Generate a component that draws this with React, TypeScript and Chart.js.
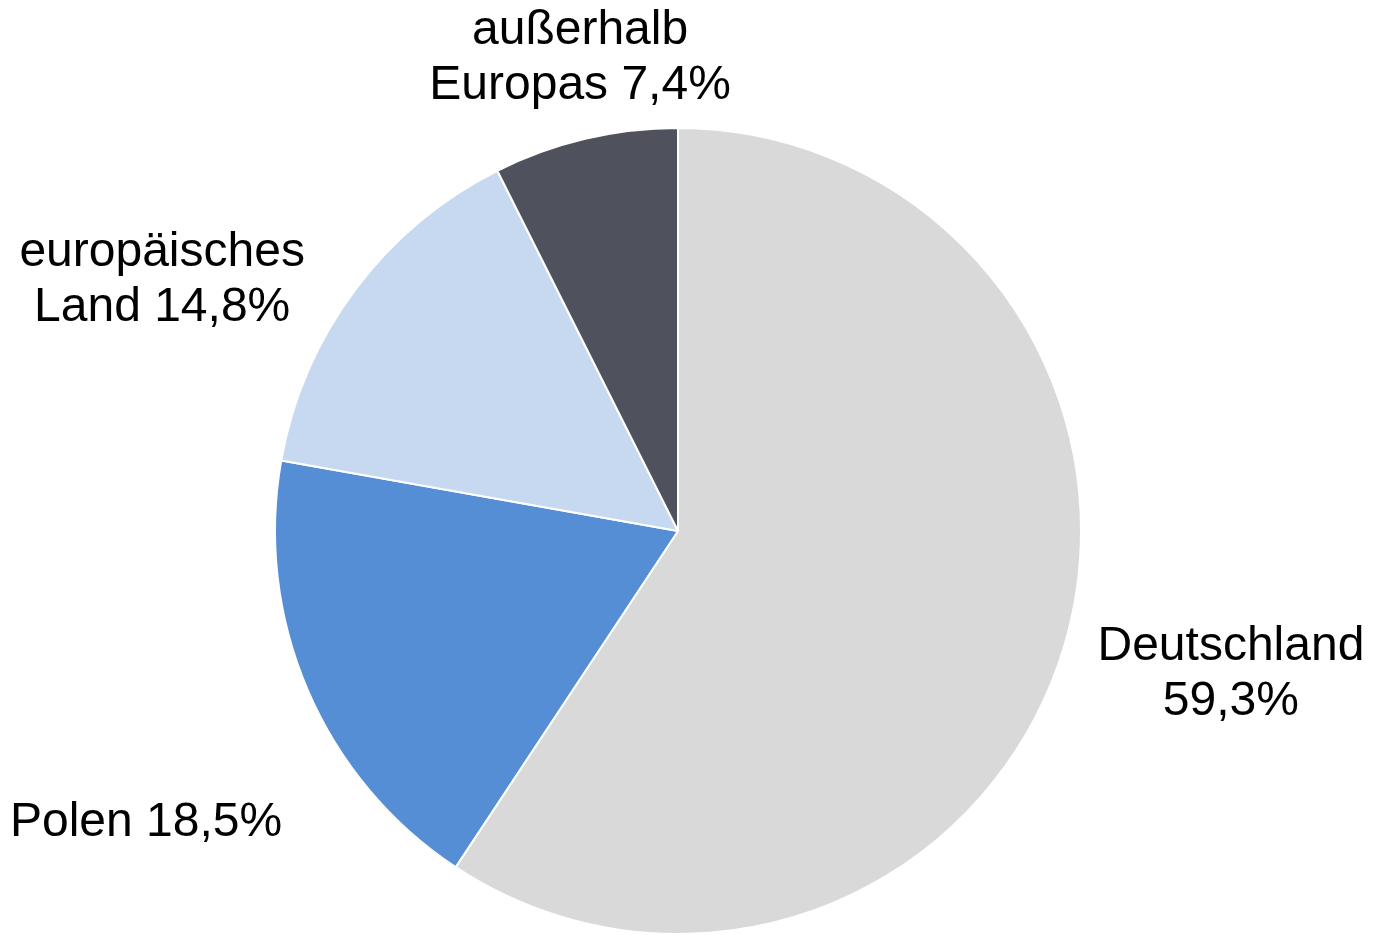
import React, { useEffect, useRef } from "react";
import { Chart, registerables } from "chart.js";

Chart.register(...registerables);

const categories = ["Deutschland", "Polen", "europäisches Land", "außerhalb Europas"];
const values = [59.3, 18.5, 14.8, 7.4];
const colors = ["#d9d9d9", "#558ed5", "#c6d9f0", "#4f515c"];
const labelTemplates = ["Deutschland\n{v}%", "Polen {v}%", "europäisches\nLand {v}%", "außerhalb\nEuropas {v}%"];
// label block centres, in units of the pie radius, relative to the pie centre
const labelOffsets = [
  [1.372, 0.345],
  [-1.32, 0.713],
  [-1.28, -0.633],
  [-0.243, -1.182],
];

const FONT_SIZE = 48;
const LINE_HEIGHT = 55;

const labelPlugin = {
  id: "outerLabels",
  afterDraw(chart: any) {
    const meta = chart.getDatasetMeta(0);
    const ctx = chart.ctx;
    ctx.save();
    ctx.font = `${FONT_SIZE}px "Liberation Sans", Arial, sans-serif`;
    ctx.fillStyle = "#000000";
    ctx.textAlign = "center";
    ctx.textBaseline = "alphabetic";
    const capHalf = (FONT_SIZE * 0.716) / 2;
    meta.data.forEach((arc: any, i: number) => {
      const { x, y, outerRadius } = arc.getProps(["x", "y", "outerRadius"], true);
      const r = outerRadius;
      const cx = x + labelOffsets[i][0] * r;
      const cy = y + labelOffsets[i][1] * r;
      const txt = labelTemplates[i].replace("{v}", values[i].toFixed(1).replace(".", ","));
      const lines = txt.split("\n");
      lines.forEach((line, j) => {
        const by = cy + (j - (lines.length - 1) / 2) * LINE_HEIGHT + capHalf;
        ctx.fillText(line, cx, by);
      });
    });
    ctx.restore();
  },
};

export default function App() {
  const canvasRef = useRef<HTMLCanvasElement | null>(null);

  useEffect(() => {
    if (!canvasRef.current) return;
    const chart = new Chart(canvasRef.current, {
      type: "pie",
      data: {
        labels: categories,
        datasets: [
          {
            data: values,
            backgroundColor: colors,
            borderColor: "#ffffff",
            borderWidth: 2,
          },
        ],
      },
      options: {
        animation: false,
        responsive: true,
        maintainAspectRatio: false,
        layout: { padding: { top: 127, bottom: 0, left: 274, right: 293 } },
        plugins: {
          legend: { display: false },
          tooltip: { enabled: false },
          title: { display: false },
        },
      },
      plugins: [labelPlugin],
    });
    return () => chart.destroy();
  }, []);

  return (
    <div style={{ position: "fixed", left: 0, top: 0, width: 1375, height: 935, background: "#ffffff" }}>
      <canvas ref={canvasRef} />
    </div>
  );
}
